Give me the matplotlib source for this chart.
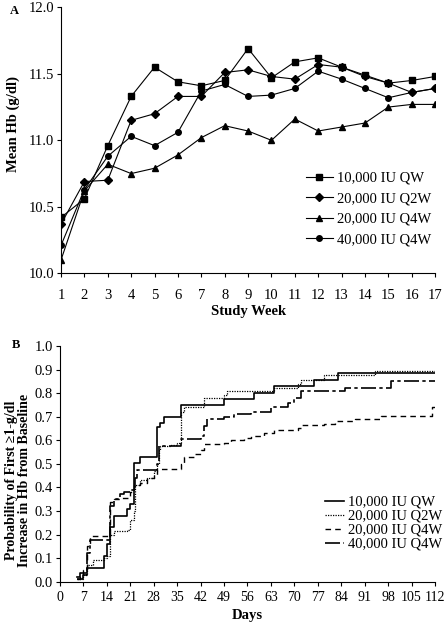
import matplotlib
matplotlib.use('Agg')
import matplotlib.pyplot as plt

plt.rcParams['font.family'] = ['Liberation Serif', 'DejaVu Serif']
plt.rcParams['font.size'] = 10.5

# panel A: mean Hb by study week
weeks = list(range(1, 18))
hb_10k_qw = [10.42, 10.56, 10.96, 11.33, 11.55, 11.44, 11.41, 11.45, 11.69, 11.47,
             11.59, 11.62, 11.55, 11.49, 11.43, 11.45, 11.48]
hb_20k_q2w = [10.37, 10.69, 10.70, 11.15, 11.20, 11.33, 11.33, 11.51, 11.53, 11.48,
              11.46, 11.57, 11.55, 11.48, 11.43, 11.36, 11.39]
hb_20k_q4w = [10.10, 10.62, 10.82, 10.75, 10.79, 10.89, 11.02, 11.11, 11.07, 11.00,
              11.16, 11.07, 11.10, 11.13, 11.25, 11.27, 11.27]
hb_40k_q4w = [10.21, 10.63, 10.88, 11.03, 10.96, 11.06, 11.37, 11.42, 11.33, 11.34,
              11.39, 11.52, 11.46, 11.39, 11.32, 11.36, 11.39]

# panel B: probability of first >=1 g/dl increase (step curves)
t_10k_qw = [5, 6, 8, 13, 14, 15, 16, 20, 21, 22, 24, 29, 30, 31, 36, 49, 58, 64, 76, 83, 112]
p_10k_qw = [0.02, 0.035, 0.06, 0.11, 0.16, 0.23, 0.28, 0.31, 0.33, 0.505, 0.53, 0.655,
            0.675, 0.70, 0.75, 0.775, 0.80, 0.83, 0.855, 0.885, 0.885]

t_20k_q2w = [5, 7, 8, 10, 13, 14, 15, 16, 20, 21, 22, 22.5, 24, 26, 28, 29, 29.5, 30, 33,
             35, 36, 37, 43, 49, 50, 64, 71, 72, 79, 94, 112]
p_20k_q2w = [0.01, 0.03, 0.07, 0.09, 0.10, 0.11, 0.20, 0.215, 0.22, 0.26, 0.30, 0.41, 0.43,
             0.44, 0.47, 0.50, 0.56, 0.575, 0.58, 0.59, 0.72, 0.74, 0.78, 0.79, 0.81, 0.82,
             0.84, 0.855, 0.875, 0.895, 0.895]

t_20k_q4w = [5, 6, 7, 8, 9, 15, 16, 18, 21, 22, 24, 26, 28, 29, 36, 37, 40, 42, 43, 49, 51,
             55, 57, 61, 64, 71, 72, 79, 82, 88, 96, 111, 112]
p_20k_q4w = [0.01, 0.02, 0.05, 0.15, 0.195, 0.34, 0.35, 0.355, 0.38, 0.41, 0.42, 0.44, 0.45,
             0.48, 0.50, 0.53, 0.54, 0.56, 0.585, 0.59, 0.60, 0.61, 0.62, 0.63, 0.645, 0.65,
             0.665, 0.67, 0.68, 0.69, 0.705, 0.74, 0.74]

t_40k_q4w = [5, 7, 8, 9, 15, 16, 18, 19, 21, 22, 22.5, 23, 29, 29.5, 36, 42, 43, 44, 49, 52,
             57, 63, 68, 70, 72, 85, 99, 112]
p_40k_q4w = [0.01, 0.03, 0.12, 0.175, 0.32, 0.35, 0.37, 0.38, 0.39, 0.40, 0.44, 0.475, 0.50,
             0.575, 0.605, 0.62, 0.66, 0.69, 0.70, 0.71, 0.72, 0.74, 0.76, 0.78, 0.81, 0.82,
             0.85, 0.85]

labels = ['10,000 IU QW', '20,000 IU Q2W', '20,000 IU Q4W', '40,000 IU Q4W']

fig = plt.figure(figsize=(4.44, 6.26), dpi=100)

# ---- panel A
ax1 = fig.add_axes([0.1374, 0.5634, 0.8426, 0.4249])
ax1.plot(weeks, hb_10k_qw, color='black', lw=0.8, marker='s', ms=4, label=labels[0])
ax1.plot(weeks, hb_20k_q2w, color='black', lw=0.8, marker='D', ms=3.8, label=labels[1])
ax1.plot(weeks, hb_20k_q4w, color='black', lw=0.8, marker='^', ms=4, label=labels[2])
ax1.plot(weeks, hb_40k_q4w, color='black', lw=0.8, marker='o', ms=4, label=labels[3])
ax1.set_xlim(1, 17)
ax1.set_ylim(10.0, 12.0)
ax1.set_xticks(weeks)
ax1.set_yticks([10.0, 10.5, 11.0, 11.5, 12.0])
ax1.set_yticklabels(['10.0', '10.5', '11.0', '11.5', '12.0'])
ax1.set_xlabel('Study Week', fontweight='bold')
ax1.xaxis.set_label_coords(0.5, -0.12)
ax1.set_ylabel('Mean Hb (g/dl)', fontweight='bold')
ax1.yaxis.set_label_coords(-0.11, 0.56)
ax1.legend(loc='upper left', bbox_to_anchor=(0.64, 0.405), frameon=False,
           handlelength=1.8, handletextpad=0.3, labelspacing=0.5, borderaxespad=0)
ax1.tick_params(axis='x', pad=8)
fig.text(0.022, 0.978, 'A', fontweight='bold', fontsize=9)

# ---- panel B
ax2 = fig.add_axes([0.1351, 0.0708, 0.8446, 0.3765])
ax2.step(t_10k_qw, p_10k_qw, where='post', color='black', lw=1.2, label=labels[0])
ax2.step(t_20k_q2w, p_20k_q2w, where='post', color='black', lw=0.9, ls=(0, (1, 1)), label=labels[1])
ax2.step(t_20k_q4w, p_20k_q4w, where='post', color='black', lw=1.0, ls=(0, (4, 3)), label=labels[2])
ax2.step(t_40k_q4w, p_40k_q4w, where='post', color='black', lw=1.2, ls=(0, (9, 2, 2, 2)), label=labels[3])
ax2.set_xlim(0, 112)
ax2.set_ylim(0.0, 1.0)
ax2.set_xticks(range(0, 113, 7))
ax2.set_yticks([i / 10 for i in range(11)])
ax2.set_yticklabels(['%.1f' % (i / 10) for i in range(11)])
ax2.set_xlabel('Days', fontweight='bold')
ax2.xaxis.set_label_coords(0.5, -0.115)
ax2.set_ylabel('Probability of First \u22651-g/dl\nIncrease in Hb from Baseline',
               fontweight='bold', fontsize=10, linespacing=0.95)
ax2.yaxis.set_label_coords(-0.078, 0.43)
ax2.legend(loc='upper left', bbox_to_anchor=(0.69, 0.39), frameon=False,
           handlelength=1.3, handletextpad=0.3, labelspacing=0.05, borderaxespad=0)
ax2.tick_params(axis='x', labelsize=10)
fig.text(0.027, 0.444, 'B', fontweight='bold', fontsize=9)

for ax in (ax1, ax2):
    ax.spines['top'].set_visible(False)
    ax.spines['right'].set_visible(False)
    ax.spines['left'].set_linewidth(0.8)
    ax.spines['bottom'].set_linewidth(0.8)
    ax.tick_params(direction='out', length=3, width=0.8)
    ax.tick_params(axis='y', pad=2)

fig.savefig('out.png', dpi=100)
